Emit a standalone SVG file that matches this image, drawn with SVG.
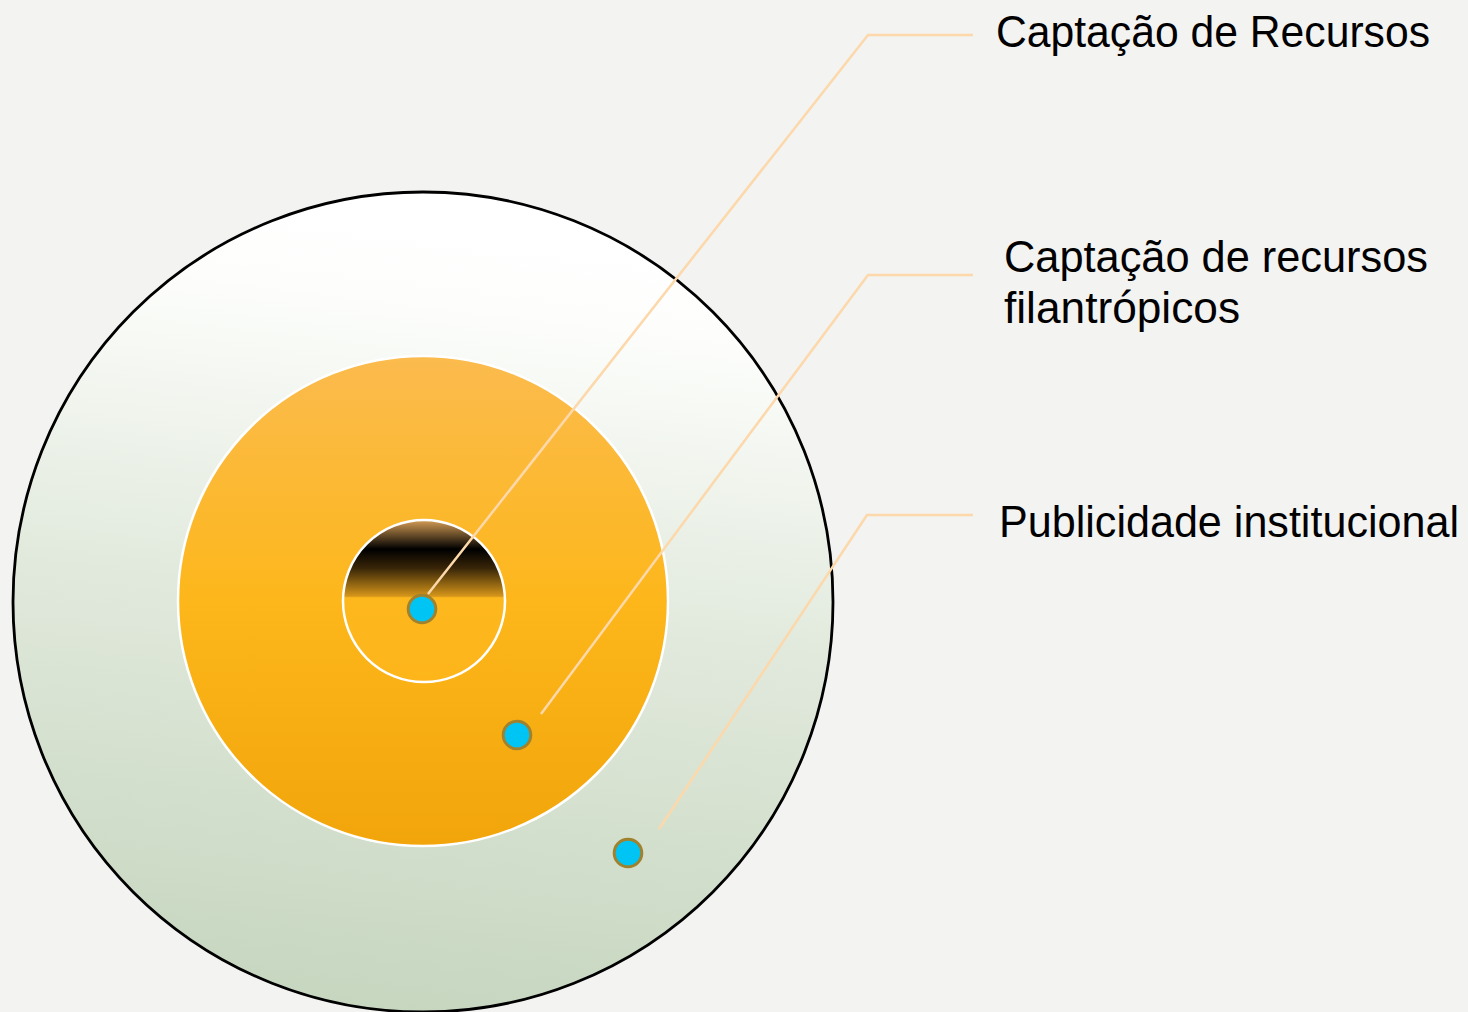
<svg xmlns="http://www.w3.org/2000/svg" width="1468" height="1012" viewBox="0 0 1468 1012">
<defs>
<linearGradient id="gOuter" x1="0.56" y1="0.02" x2="0.44" y2="1">
<stop offset="0" stop-color="#ffffff"/>
<stop offset="0.12" stop-color="#fdfefc"/>
<stop offset="0.5" stop-color="#e1e9dc"/>
<stop offset="1" stop-color="#c6d6bf"/>
</linearGradient>
<linearGradient id="gMid" x1="0" y1="0" x2="0" y2="1">
<stop offset="0" stop-color="#fbbb4e"/>
<stop offset="0.5" stop-color="#fdb71b"/>
<stop offset="1" stop-color="#f1a50b"/>
</linearGradient>
<linearGradient id="gInner" x1="0" y1="0" x2="0" y2="1">
<stop offset="0" stop-color="#d59d55"/>
<stop offset="0.18" stop-color="#000000"/>
<stop offset="0.3" stop-color="#3a2608"/>
<stop offset="0.47" stop-color="#d4951a"/>
<stop offset="0.48" stop-color="#fdb81e"/>
<stop offset="1" stop-color="#fdb51a"/>
</linearGradient>
</defs>
<style>
.lbl{font-family:"Liberation Sans","Open Sans",sans-serif;font-size:44px;fill:#000}
.conn{fill:none;stroke:#fcd8ab;stroke-width:2.5}
.dot{fill:#00c4f4;stroke:#a0822e;stroke-width:3}
</style>
<rect width="1468" height="1012" fill="#f3f3f1"/>
<g id="ring-outer">
<circle cx="423" cy="602" r="410" fill="url(#gOuter)" stroke="#000" stroke-width="2.8"/>
</g>
<g id="ring-middle">
<circle cx="423" cy="601" r="245" fill="url(#gMid)" stroke="#ffffff" stroke-width="2.5"/>
</g>
<g id="ring-inner">
<circle cx="424" cy="601" r="81" fill="url(#gInner)" stroke="#ffffff" stroke-width="2.5"/>
</g>
<g id="connectors">
<polyline class="conn" points="428,594 868,35 973,35"/>
<polyline class="conn" points="541,714 868,275 973,275"/>
<polyline class="conn" points="659,829 867,515 973,515"/>
</g>
<g id="dot-1"><circle class="dot" cx="422" cy="609" r="13.8"/></g>
<g id="dot-2"><circle class="dot" cx="517" cy="735" r="13.8"/></g>
<g id="dot-3"><circle class="dot" cx="628" cy="853" r="13.8"/></g>
<g id="label-1"><text class="lbl" x="996" y="47" textLength="434" lengthAdjust="spacingAndGlyphs">Captação de Recursos</text></g>
<g id="label-2"><text class="lbl" x="1004" y="272" textLength="424" lengthAdjust="spacingAndGlyphs">Captação de recursos</text><text class="lbl" x="1004" y="323" textLength="236" lengthAdjust="spacingAndGlyphs">filantrópicos</text></g>
<g id="label-3"><text class="lbl" x="999" y="537" textLength="460" lengthAdjust="spacingAndGlyphs">Publicidade institucional</text></g>
</svg>
